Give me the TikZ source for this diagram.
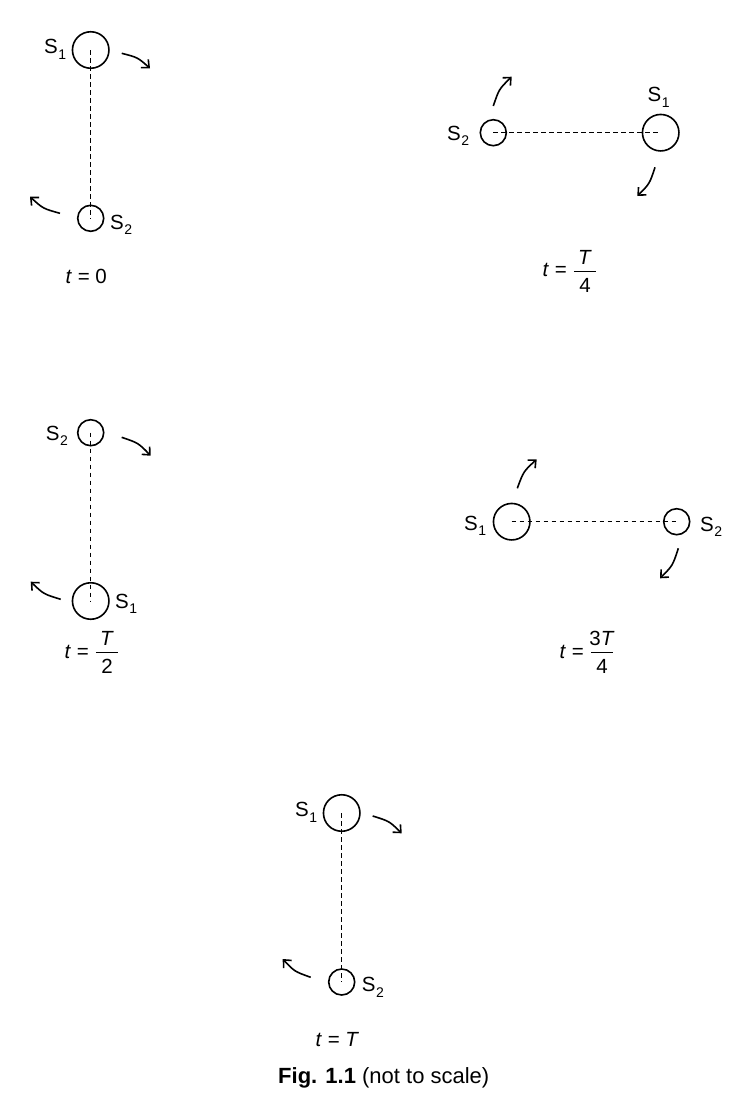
\documentclass[tikz,border=0pt]{standalone}
\usepackage{fontspec}
\setmainfont{Liberation Sans}
\usetikzlibrary{arrows.meta}
\newcommand{\slab}[1]{S\kern0.5pt\raisebox{-5.5pt}{\fontsize{14}{14}\selectfont #1}}
\newcommand{\fracT}[2]{\kern1.5pt\raisebox{5.1pt}{\makebox[0pt][l]{\rule{22pt}{1.1pt}}}\makebox[0pt][l]{\makebox[22pt]{\raisebox{12.5pt}{#1}}}\makebox[22pt]{\raisebox{-15.5pt}{#2}}}
\begin{document}
\begin{tikzpicture}[x=1pt,y=-1pt,
  big/.style={circle,draw,line width=1.6pt,minimum size=36.5pt,inner sep=0pt},
  small/.style={circle,draw,line width=1.6pt,minimum size=26pt,inner sep=0pt},
  sep/.style={line width=1.1pt,dash pattern=on 4.5pt off 3.5pt},
  mov/.style={line width=1.6pt,-{Straight Barb[length=6pt,width=11pt,line width=1.6pt]}},
  lab/.style={font=\fontsize{20.5}{24}\selectfont,inner sep=0pt,anchor=base west},
  caplab/.style={font=\fontsize{22}{26}\selectfont,inner sep=0pt,anchor=base west}]
\useasboundingbox (0,0) rectangle (739,1095);
% ---------- t = 0 ----------
\node[big] (p1a) at (90.7,50) {};
\node[small] (p1b) at (90.7,218.3) {};
\draw[sep] (p1a.center) -- (p1b.center);
\node[lab] (l1a) at (44,53.5) {\slab{1}};
\node[lab] (l1b) at (110,229.3) {\slab{2}};
\coordinate (a1s) at (121.7,53.3); \coordinate (a1e) at (150,68.3);
\draw[mov] (a1s) .. controls (137.65,57.4) .. (a1e);
\coordinate (a2s) at (60,213.3); \coordinate (a2e) at (30,196.7);
\draw[mov] (a2s) .. controls (43,208.6) .. (a2e);
\node[lab] (t1) at (65.5,283) {\textit{t} = 0};
% ---------- t = T/4 ----------
\node[small] (p2b) at (493.3,132.7) {};
\node[big] (p2a) at (660.7,132.7) {};
\draw[sep] (p2b.center) -- (p2a.center);
\node[lab] (l2b) at (447,140) {\slab{2}};
\node[lab] (l2a) at (647.5,101.7) {\slab{1}};
\coordinate (a3s) at (493.3,106); \coordinate (a3e) at (511.7,76.7);
\draw[mov] (a3s) .. controls (499,89.15) .. (a3e);
\coordinate (a4s) at (655,167.3); \coordinate (a4e) at (637.3,196);
\draw[mov] (a4s) .. controls (649.6,183.75) .. (a4e);
\node[lab] (t2) at (542.5,276.7) {\textit{t} = \fracT{\textit{T}}{4}};
% ---------- t = T/2 ----------
\node[small] (p3b) at (90.7,432.7) {};
\node[big] (p3a) at (90.7,601) {};
\draw[sep] (p3b.center) -- (p3a.center);
\node[lab] (l3b) at (45.7,440) {\slab{2}};
\node[lab] (l3a) at (115,608.3) {\slab{1}};
\coordinate (a5s) at (121.7,437.3); \coordinate (a5e) at (150.7,455.7);
\draw[mov] (a5s) .. controls (138.4,443) .. (a5e);
\coordinate (a6s) at (60.7,599.3); \coordinate (a6e) at (30.7,581.7);
\draw[mov] (a6s) .. controls (43.6,594.1) .. (a6e);
\node[lab] (t3) at (64.5,658.3) {\textit{t} = \fracT{\textit{T}}{2}};
% ---------- t = 3T/4 ----------
\node[big] (p4a) at (511.7,521.7) {};
\node[small] (p4b) at (676.7,521.7) {};
\draw[sep] (p4a.center) -- (p4b.center);
\node[lab] (l4a) at (464,530) {\slab{1}};
\node[lab] (l4b) at (700,531) {\slab{2}};
\coordinate (a7s) at (517.3,488.3); \coordinate (a7e) at (536.7,459.3);
\draw[mov] (a7s) .. controls (523.5,471.45) .. (a7e);
\coordinate (a8s) at (678.3,548.3); \coordinate (a8e) at (660,578.3);
\draw[mov] (a8s) .. controls (672.75,565.5) .. (a8e);
\node[lab] (t4) at (559.5,658.3) {\textit{t} = \fracT{3\textit{T}}{4}};
% ---------- t = T ----------
\node[big] (p5a) at (341.7,813) {};
\node[small] (p5b) at (341.7,982) {};
\draw[sep] (p5a.center) -- (p5b.center);
\node[lab] (l5a) at (295,816.7) {\slab{1}};
\node[lab] (l5b) at (361.7,991.7) {\slab{2}};
\coordinate (a9s) at (372.7,816); \coordinate (a9e) at (401.7,833.3);
\draw[mov] (a9s) .. controls (389.3,821.15) .. (a9e);
\coordinate (a10s) at (310.7,977.3); \coordinate (a10e) at (282.7,959);
\draw[mov] (a10s) .. controls (294.5,971.5) .. (a10e);
\node[lab] (t5) at (315.5,1046.7) {\textit{t} = \textit{T}};
% ---------- caption ----------
\node[caplab] (cap) at (278,1083) {\textbf{Fig. 1.1} (not to scale)};
\end{tikzpicture}
\end{document}
